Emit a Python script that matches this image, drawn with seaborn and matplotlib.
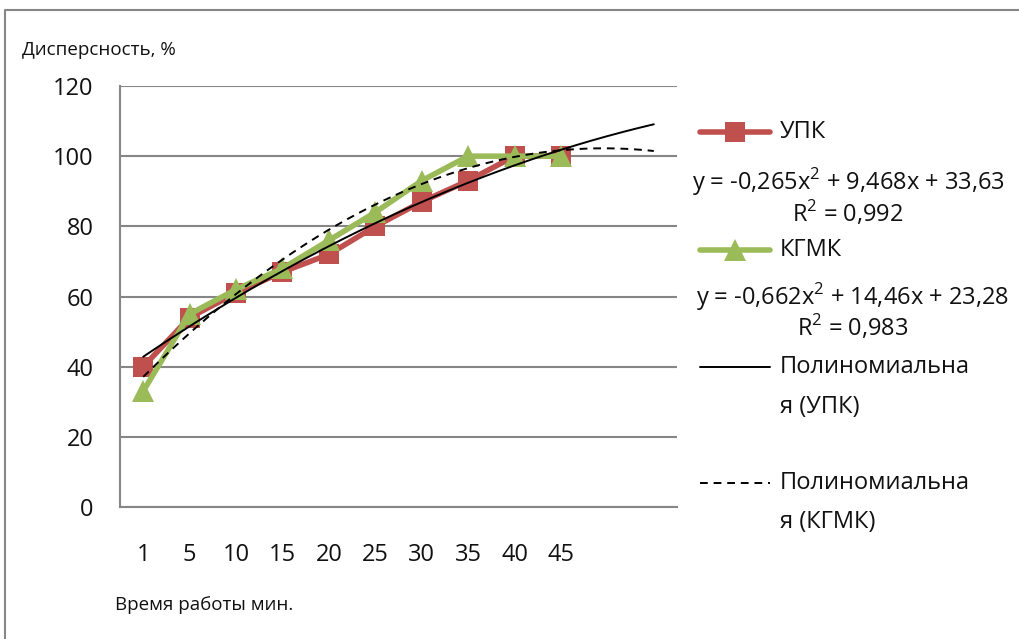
import numpy as np
import pandas as pd
import matplotlib
matplotlib.use('Agg')
import matplotlib.pyplot as plt
from matplotlib.lines import Line2D
import seaborn as sns

# data
times = ['1', '5', '10', '15', '20', '25', '30', '35', '40', '45']
upk = [40, 54, 61, 67, 72, 80, 87, 93, 100, 100]
kgmk = [33, 55, 62, 68, 76, 84, 93, 100, 100, 100]
# trendline coefficients as printed on the chart (x = category number 1..12)
trend_upk = [-0.265, 9.468, 33.63]
trend_kgmk = [-0.662, 14.46, 23.28]
eq_upk = 'y = -0,265x$^2$ + 9,468x + 33,63'
eq_kgmk = 'y = -0,662x$^2$ + 14,46x + 23,28'
r2_upk = 'R$^2$ = 0,992'
r2_kgmk = 'R$^2$ = 0,983'

sns.set_style('white')
plt.rcParams['font.family'] = ['Open Sans', 'DejaVu Sans']
plt.rcParams['mathtext.fontset'] = 'custom'
plt.rcParams['mathtext.rm'] = 'Open Sans'
plt.rcParams['text.color'] = '#111111'
plt.rcParams['xtick.labelcolor'] = '#111111'
plt.rcParams['ytick.labelcolor'] = '#111111'

W, H = 1019, 639
fig = plt.figure(figsize=(W / 100, H / 100), dpi=100)
ax = fig.add_axes([120 / W, 1 - 507 / H, 557 / W, 421 / H])

pos = np.arange(1, len(times) + 1)
df = pd.DataFrame({'pos': np.concatenate([pos, pos]),
                   'val': upk + kgmk,
                   'series': ['УПК'] * len(pos) + ['КГМК'] * len(pos)})

red = '#C0504D'
green = '#9BBB59'
sns.lineplot(data=df[df.series == 'УПК'], x='pos', y='val', color=red, lw=4,
             marker='s', markersize=15, markeredgewidth=0, ax=ax, zorder=3)
sns.lineplot(data=df[df.series == 'КГМК'], x='pos', y='val', color=green, lw=4,
             marker='^', markersize=16, markeredgewidth=0, ax=ax, zorder=4)

xt = np.linspace(1, 12, 200)
sns.lineplot(x=xt, y=np.polyval(trend_upk, xt), color='black', lw=1.4, ax=ax, zorder=5)
sns.lineplot(x=xt, y=np.polyval(trend_kgmk, xt), color='black', lw=1.4,
             linestyle=(0, (4, 3)), ax=ax, zorder=5)

ax.set_xlim(0.5, 12.5)
ax.set_ylim(0, 120)
ax.set_yticks(range(0, 121, 20))
ax.yaxis.grid(True, color='#868686', lw=1.5)
ax.set_axisbelow(True)
for s in ['top', 'right']:
    ax.spines[s].set_visible(False)
for s in ['left', 'bottom']:
    ax.spines[s].set_color('#868686')
    ax.spines[s].set_linewidth(1.5)

ax.set_xticks(np.arange(0.5, 12.6, 1))
ax.set_xticklabels([])
ax.set_xticks(pos, minor=True)
ax.set_xticklabels(times, minor=True)
ax.tick_params(axis='x', which='major', length=8, width=1.5, color='#868686', direction='out')
ax.tick_params(axis='x', which='minor', length=0, pad=26, labelsize=17)
ax.tick_params(axis='y', length=7, width=1.5, color='#868686', direction='out', labelsize=17, pad=12)
ax.set_xlabel('')
ax.set_ylabel('')

fig.text(22 / W, 1 - 50 / H, 'Дисперсность, %', fontsize=13.5, va='center', ha='left')
fig.text(115 / W, 1 - 605 / H, 'Время работы мин.', fontsize=13.5, va='center', ha='left')

# legend drawn at the right
def handle(y, color, marker=None, ls='-', lw=4, ms=15):
    yy = 1 - y / H
    fig.add_artist(Line2D([700 / W, 770 / W], [yy, yy], color=color, lw=lw, linestyle=ls,
                          transform=fig.transFigure))
    if marker:
        fig.add_artist(Line2D([735 / W], [yy], color=color, marker=marker, markersize=ms,
                              markeredgewidth=0, transform=fig.transFigure))

fs = 17
handle(132, red, 's', ms=15)
fig.text(780 / W, 1 - 132 / H, 'УПК', fontsize=fs, va='center')
fig.text(848 / W, 1 - 182 / H, eq_upk, fontsize=fs, va='center', ha='center')
fig.text(848 / W, 1 - 213 / H, r2_upk, fontsize=fs, va='center', ha='center')
handle(250, green, '^', ms=16)
fig.text(780 / W, 1 - 250 / H, 'КГМК', fontsize=fs, va='center')
fig.text(853 / W, 1 - 297 / H, eq_kgmk, fontsize=fs, va='center', ha='center')
fig.text(853 / W, 1 - 327 / H, r2_kgmk, fontsize=fs, va='center', ha='center')
handle(367, 'black', lw=1.4)
fig.text(780 / W, 1 - 367 / H, 'Полиномиальна', fontsize=fs, va='center')
fig.text(780 / W, 1 - 407 / H, 'я (УПК)', fontsize=fs, va='center')
handle(483, 'black', ls=(0, (4, 3)), lw=1.4)
fig.text(780 / W, 1 - 483 / H, 'Полиномиальна', fontsize=fs, va='center')
fig.text(780 / W, 1 - 522 / H, 'я (КГМК)', fontsize=fs, va='center')

# chart area border (top and left edges visible)
fig.add_artist(Line2D([5 / W, 5 / W, 1], [0, 1 - 10 / H, 1 - 10 / H], color='#868686',
                      lw=1.5, transform=fig.transFigure))

fig.savefig('out.png', dpi=100)
